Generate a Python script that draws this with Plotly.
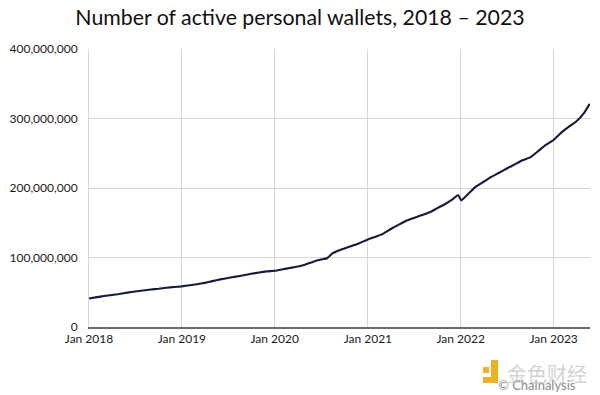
import plotly.graph_objects as go

dates = [
    "2018-01-01", "2018-02-01", "2018-03-01", "2018-04-01", "2018-05-01", "2018-06-01",
    "2018-07-01", "2018-08-01", "2018-09-01", "2018-10-01", "2018-11-01", "2018-12-01",
    "2019-01-01", "2019-02-01", "2019-03-01", "2019-04-01", "2019-05-01", "2019-06-01",
    "2019-07-01", "2019-08-01", "2019-09-01", "2019-10-01", "2019-11-01", "2019-12-01",
    "2020-01-01", "2020-02-01", "2020-03-01", "2020-04-01", "2020-05-01", "2020-06-01",
    "2020-07-01", "2020-07-25", "2020-08-15", "2020-09-01", "2020-10-01", "2020-11-01",
    "2020-12-01",
    "2021-01-01", "2021-02-01", "2021-03-01", "2021-04-01", "2021-05-01", "2021-06-01",
    "2021-07-01", "2021-08-01", "2021-09-01", "2021-10-01", "2021-11-01", "2021-12-01",
    "2021-12-22", "2022-01-03", "2022-02-01", "2022-03-01", "2022-04-01", "2022-05-01",
    "2022-06-01", "2022-07-01", "2022-08-01", "2022-09-01", "2022-10-01", "2022-11-01",
    "2022-12-01", "2023-01-01", "2023-02-01", "2023-03-01", "2023-04-01", "2023-05-01",
    "2023-05-23",
]
wallets_millions = [
    41, 43, 44.5, 46, 47.5, 49.5, 51, 52.5, 54, 55, 56.5, 57.5,
    58.5, 60, 61.5, 63.5, 66, 68.5, 70.5, 72.5, 74.5, 76.5, 78.5, 80,
    81, 83, 85, 87, 90, 94, 97, 99, 106, 109, 113, 117, 121,
    126, 130, 134, 141, 147, 153, 157, 161, 165, 171, 177, 184,
    190, 182, 192, 202, 209, 216, 222, 228, 234, 240, 244, 253,
    262, 269, 280, 288, 296, 308, 321,
]
wallets = [v * 1_000_000 for v in wallets_millions]

x_tick_vals = ["2018-01-01", "2019-01-01", "2020-01-01", "2021-01-01", "2022-01-01", "2023-01-01"]
x_tick_text = ["Jan 2018", "Jan 2019", "Jan 2020", "Jan 2021", "Jan 2022", "Jan 2023"]
y_tick_vals = [0, 100_000_000, 200_000_000, 300_000_000, 400_000_000]

font_family = "Lato, 'Noto Sans', sans-serif"

# plot area in pixels (left, right, top, bottom)
PL, PR, PT, PB = 89, 590, 49, 327
W, H = 600, 395


def px(x):
    return (x - PL) / (PR - PL)


def py(y):
    return (PB - y) / (PB - PT)


fig = go.Figure()
fig.add_trace(go.Scatter(
    x=dates, y=wallets, mode="lines",
    line=dict(color="#141b3d", width=2.1, shape="spline", smoothing=0.3),
    hoverinfo="x+y", showlegend=False,
))

fig.update_layout(
    width=W, height=H,
    margin=dict(l=PL, r=W - PR, t=PT, b=H - PB, autoexpand=False),
    paper_bgcolor="white", plot_bgcolor="white",
    font=dict(family=font_family, color="#1a1a1a", size=12),
    title=dict(
        text="Number of active personal wallets, 2018 \u2013 2023",
        x=0.5, xanchor="center", xref="container",
        y=1 - 18 / H, yanchor="middle",
        font=dict(family=font_family, size=21.3, color="#111111"),
    ),
    xaxis=dict(
        type="date",
        range=["2018-01-01", "2023-05-24"],
        tickvals=x_tick_vals, ticktext=x_tick_text,
        showgrid=True, gridcolor="#d6d6d6", gridwidth=1,
        showline=True, linecolor="#6b6b6b", linewidth=2,
        ticks="", tickfont=dict(size=12, color="#1a1a1a"),
        zeroline=False,
    ),
    yaxis=dict(
        range=[0, 400_000_000],
        tickvals=y_tick_vals, tickformat=",",
        showgrid=True, gridcolor="#d6d6d6", gridwidth=1,
        showline=True, linecolor="#d6d6d6", linewidth=1,
        zeroline=False,
        ticks="", ticklabelstandoff=8,
        tickfont=dict(size=12, color="#1a1a1a"),
    ),
)

# watermark / source
fig.add_annotation(
    text="\u00a9 Chainalysis", xref="paper", yref="paper",
    x=px(578), y=py(385), xanchor="right", yanchor="middle", showarrow=False,
    font=dict(family=font_family, size=13, color="#8a8a8a"),
)
fig.add_annotation(
    text="\u91d1\u8272\u8d22\u7ecf", xref="paper", yref="paper",
    x=px(589), y=py(373), xanchor="right", yanchor="middle", showarrow=False,
    font=dict(family="Noto Sans CJK SC", size=20, color="rgba(195,195,195,0.75)"),
)
for (x0, x1, y0, y1) in [(483, 489, 367, 373), (491, 498, 360, 383), (483, 498, 377, 383)]:
    fig.add_shape(
        type="rect", xref="paper", yref="paper",
        x0=px(x0), x1=px(x1), y0=py(y1), y1=py(y0),
        fillcolor="#f2b01e", line=dict(width=0),
    )

fig.write_html(
    "out.html",
    config={"displayModeBar": False},
    post_script="document.body.style.margin='0';",
)
